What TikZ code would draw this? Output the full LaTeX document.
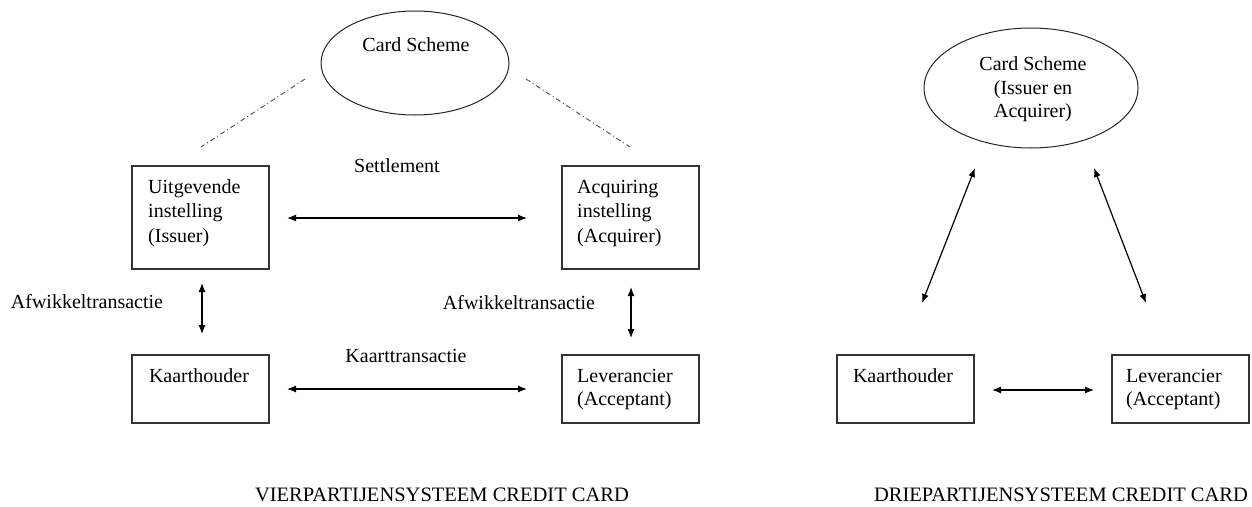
\documentclass[tikz,border=0pt]{standalone}
\usepackage{fontspec}
\setmainfont{Liberation Serif}
\usetikzlibrary{shapes.geometric,arrows.meta}
\begin{document}
\begin{tikzpicture}[x=1pt,y=-1pt,
  every node/.style={font=\fontsize{20}{24}\selectfont, inner sep=0pt},
  boxnode/.style={draw=black!80, line width=1.3pt, rectangle, minimum width=137pt, minimum height=68pt},
  tallbox/.style={boxnode, minimum height=103pt},
  ovalnode/.style={draw=black!85, line width=1pt, ellipse},
  txt/.style={anchor=base west},
  ctxt/.style={anchor=base},
  titletxt/.style={anchor=base, font=\fontsize{20.5}{24}\selectfont},
  dbl/.style={line width=1.2pt, {Latex[length=9pt,width=7pt]}-{Latex[length=9pt,width=7pt]}},
  dashdot/.style={line width=0.9pt, black!70, dash pattern=on 5pt off 3pt on 1pt off 3pt}]
\useasboundingbox (0,0) rectangle (1252,506);

% ---------- left diagram ----------
\node[ovalnode, minimum width=188pt, minimum height=104pt] (cs1) at (415,63) {};
\node[ctxt] (cs1t) at (416,51) {Card Scheme};

\coordinate (d1a) at (305,79); \coordinate (d1b) at (201,147);
\coordinate (d2a) at (526,79); \coordinate (d2b) at (630,147);
\draw[dashdot] (d1a) -- (d1b);
\draw[dashdot] (d2a) -- (d2b);

\node[tallbox] (iss) at (200.5,217.5) {};
\node[txt] (iss1) at (148,193) {Uitgevende};
\node[txt] (iss2) at (148,217) {instelling};
\node[txt] (iss3) at (148,242) {(Issuer)};

\node[tallbox] (acq) at (630.5,217.5) {};
\node[txt] (acq1) at (577,193) {Acquiring};
\node[txt] (acq2) at (577,217) {instelling};
\node[txt] (acq3) at (577,242) {(Acquirer)};

\node[ctxt] (settl) at (397,172) {Settlement};
\coordinate (s1) at (287,218); \coordinate (s2) at (527,218);
\draw[dbl] (s1) -- (s2);

\node[ctxt] (afw1) at (87,308) {Afwikkeltransactie};
\coordinate (a1) at (202,283); \coordinate (a2) at (202,334);
\draw[dbl] (a1) -- (a2);

\node[ctxt] (afw2) at (519,309) {Afwikkeltransactie};
\coordinate (b1) at (631,287); \coordinate (b2) at (631,338);
\draw[dbl] (b1) -- (b2);

\node[boxnode] (kh) at (200.5,389) {};
\node[ctxt] (kht) at (199,382) {Kaarthouder};

\node[boxnode] (lev) at (630.5,389) {};
\node[txt] (lev1) at (577,382) {Leverancier};
\node[txt] (lev2) at (577,405) {(Acceptant)};

\node[ctxt] (kt) at (406,362) {Kaarttransactie};
\coordinate (k1) at (287,389); \coordinate (k2) at (527,389);
\draw[dbl] (k1) -- (k2);

\node[titletxt] (title1) at (442,501) {VIERPARTIJENSYSTEEM CREDIT CARD};

% ---------- right diagram ----------
\node[ovalnode, minimum width=214pt, minimum height=120pt] (cs2) at (1031,88) {};
\node[ctxt] (cs2a) at (1033,70) {Card Scheme};
\node[ctxt] (cs2b) at (1033,94) {(Issuer en};
\node[ctxt] (cs2c) at (1033,117) {Acquirer)};

\coordinate (r1a) at (975,168); \coordinate (r1b) at (922,303);
\coordinate (r2a) at (1094,168); \coordinate (r2b) at (1146,303);
\draw[dbl] (r1a) -- (r1b);
\draw[dbl] (r2a) -- (r2b);

\node[boxnode] (kh2) at (905.5,389) {};
\node[ctxt] (kh2t) at (903,382) {Kaarthouder};

\node[boxnode] (lev3) at (1180.5,389) {};
\node[txt] (lev3a) at (1126,382) {Leverancier};
\node[txt] (lev3b) at (1126,405) {(Acceptant)};

\coordinate (m1) at (992,390); \coordinate (m2) at (1094,390);
\draw[dbl] (m1) -- (m2);

\node[titletxt] (title2) at (1061,501) {DRIEPARTIJENSYSTEEM CREDIT CARD};
\end{tikzpicture}
\end{document}
